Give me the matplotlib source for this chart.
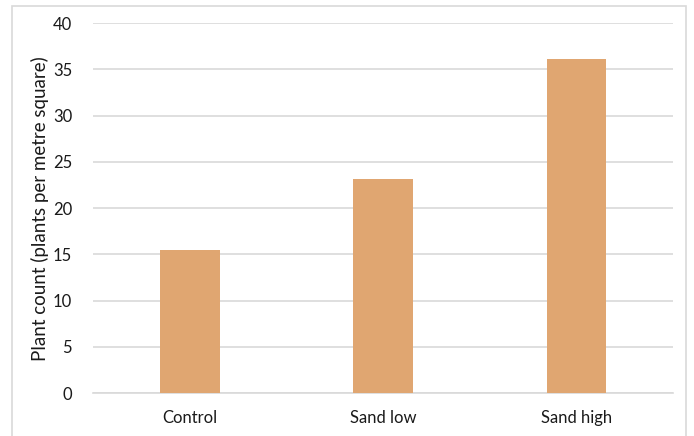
import matplotlib.pyplot as plt
from matplotlib.patches import Rectangle

# Data
categories = ["Control", "Sand low", "Sand high"]
plant_count = [15.5, 23.1, 36.1]

plt.rcParams['font.family'] = ['Lato', 'DejaVu Sans']

fig = plt.figure(figsize=(6.94, 4.36), dpi=100)
ax = fig.add_axes([0.134, 0.0986, 0.836, 0.848])

# Outer chart border (Excel-style)
fig.patches.append(Rectangle((12 / 694, -0.05), (686 - 12) / 694, 1.05 - 6 / 436,
                             transform=fig.transFigure, fill=False,
                             edgecolor="#d9d9d9", linewidth=1.2))

x = range(len(categories))
ax.bar(x, plant_count, width=0.31, color="#e0a671", zorder=3)

ax.set_xlim(-0.5, 2.5)
ax.set_ylim(0, 40)
ax.set_yticks(range(0, 41, 5))
ax.set_xticks(list(x))
ax.set_xticklabels(categories)
ax.yaxis.grid(True, color="#d9d9d9", linewidth=1.2, zorder=0)
ax.set_axisbelow(True)

for side in ["top", "right", "left"]:
    ax.spines[side].set_visible(False)
ax.spines["bottom"].set_color("#d9d9d9")
ax.spines["bottom"].set_linewidth(1.2)

ax.tick_params(axis="both", length=0, labelsize=12, colors="#1a1a1a")
ax.tick_params(axis="y", pad=15)
ax.tick_params(axis="x", pad=12)
ax.set_ylabel("Plant count (plants per metre square)", fontsize=13.5,
              color="#1a1a1a", labelpad=3)

fig.savefig("out.png", dpi=100)
